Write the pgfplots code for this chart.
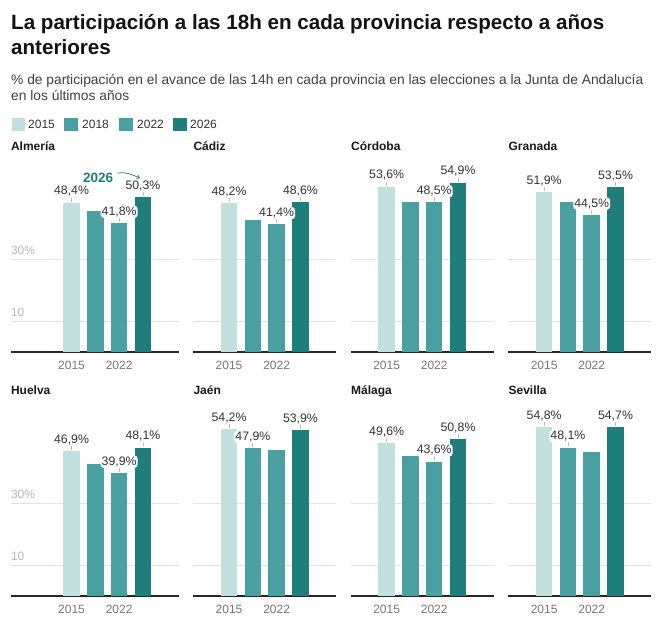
\documentclass[border=0pt]{standalone}
\usepackage{fontspec}
\setmainfont{Liberation Sans}
\usepackage{pgfplots}
\pgfplotsset{compat=1.18}
\usetikzlibrary{arrows.meta}
\definecolor{c15}{HTML}{C3E0E0}
\definecolor{c18}{HTML}{4A9FA0}
\definecolor{c22}{HTML}{4A9FA0}
\definecolor{c26}{HTML}{1F7E7C}
\definecolor{gridc}{HTML}{E3E3E3}
\definecolor{labc}{HTML}{333333}
\definecolor{tickc}{HTML}{BDBDBD}
\definecolor{xlabc}{HTML}{777777}
\definecolor{ylabc}{HTML}{B8B8B8}
\pgfkeys{/pgf/number format/.cd, use comma, fixed, fixed zerofill, precision=1, assume math mode=true}
\newcommand{\fs}[1]{\fontsize{#1bp}{#1bp}\selectfont}
\pgfplotsset{
  panel/.style={
    scale only axis, height=185bp, ymin=0, ymax=60, clip=false,
    axis line style={draw=none}, major tick length=0pt,
    ymajorgrids, major grid style={draw=gridc, line width=0.9bp},
    ytick={10,30},
    extra y ticks={0}, extra y tick labels={},
    extra y tick style={major grid style={draw=black!85, line width=1.1bp}},
    xtick={0,2}, xticklabels={2015,2022},
    xticklabel style={anchor=base, yshift=-17.5bp, font=\fs{12}, text=xlabc},
    yticklabel style={anchor=base west, inner sep=0pt, yshift=5bp, font=\fs{12}, text=ylabc},
    title style={at={(0,1)}, anchor=base west, inner sep=0pt, yshift=11bp, font=\bfseries\fs{12}, text=black!90},
    ybar, bar width=16.5bp, bar shift=0pt,
  },
  first/.style={panel, xmin=-2.55, xmax=4.5, width=167.8bp, yticklabels={10,30\%}},
  other/.style={panel, xmin=-1.5, xmax=4.5, width=142.8bp, yticklabels={}},
  tck/.style={draw=none, fill=none,
    nodes near coords={\textcolor{tickc}{\rule{0.8bp}{4bp}}},
    nodes near coords style={anchor=south, yshift=1bp, inner sep=0pt}},
  lab/.style={draw=none, fill=none,
    nodes near coords={\pgfmathprintnumber{\pgfplotspointmeta}\%},
    nodes near coords style={anchor=south, yshift=5bp, fill=white, inner sep=1bp,
      rounded corners=3bp, text=labc, font=\fs{12.3}}},
}
% #1 style, #2 X, #3 Y, #4 title, #5-#8 values 2015..2026, #9 labelled bars
\newcommand{\panel}[9]{%
  \begin{axis}[#1, at={(#2bp,#3bp)}, anchor=south west, title={#4}]
    \addplot[fill=c15, draw=none] coordinates {(0,#5)};
    \addplot[fill=c18, draw=none] coordinates {(1,#6)};
    \addplot[fill=c22, draw=none] coordinates {(2,#7)};
    \addplot[fill=c26, draw=none] coordinates {(3,#8)};
    \addplot[tck] coordinates {#9};
    \addplot[lab] coordinates {#9};
  \end{axis}}
\begin{document}
\begin{tikzpicture}
\fill[white] (0,0) rectangle (665bp,629bp);
\path[use as bounding box] (0,0) rectangle (665bp,629bp);
% titles
\node[anchor=base west, inner sep=0pt, font=\bfseries\fs{20.6}, text=black!93] at (11bp,599.7bp) {La participación a las 18h en cada provincia respecto a años};
\node[anchor=base west, inner sep=0pt, font=\bfseries\fs{20.6}, text=black!93] at (11bp,574bp) {anteriores};
\node[anchor=base west, inner sep=0pt, font=\fs{13.8}, text=black!75] at (11bp,544.7bp) {\% de participación en el avance de las 14h en cada provincia en las elecciones a la Junta de Andalucía};
\node[anchor=base west, inner sep=0pt, font=\fs{13.8}, text=black!75] at (11bp,528.3bp) {en los últimos años};
% legend
\fill[c15] (11.5bp,497.5bp) rectangle ++(13.5bp,13.5bp);
\node[anchor=base west, inner sep=0pt, font=\fs{12}, text=labc] at (28bp,500bp) {2015};
\fill[c18] (64bp,497.5bp) rectangle ++(13.5bp,13.5bp);
\node[anchor=base west, inner sep=0pt, font=\fs{12}, text=labc] at (82bp,500bp) {2018};
\fill[c22] (119bp,497.5bp) rectangle ++(13.5bp,13.5bp);
\node[anchor=base west, inner sep=0pt, font=\fs{12}, text=labc] at (137bp,500bp) {2022};
\fill[c26] (173.3bp,497.5bp) rectangle ++(13.5bp,13.5bp);
\node[anchor=base west, inner sep=0pt, font=\fs{12}, text=labc] at (190bp,500bp) {2026};
% panels
\panel{first}{10.85}{277}{Almería}{48.4}{45.6}{41.8}{50.3}{(0,48.4) (2,41.8) (3,50.3)}
\panel{other}{193.35}{277}{Cádiz}{48.2}{42.8}{41.4}{48.6}{(0,48.2) (2,41.4) (3,48.6)}
\panel{other}{350.9}{277}{Córdoba}{53.6}{48.8}{48.5}{54.9}{(0,53.6) (2,48.5) (3,54.9)}
\panel{other}{508.4}{277}{Granada}{51.9}{48.6}{44.5}{53.5}{(0,51.9) (2,44.5) (3,53.5)}
\panel{first}{10.85}{33}{Huelva}{46.9}{42.7}{39.9}{48.1}{(0,46.9) (2,39.9) (3,48.1)}
\panel{other}{193.35}{33}{Jaén}{54.2}{47.9}{47.2}{53.9}{(0,54.2) (1,47.9) (3,53.9)}
\panel{other}{350.9}{33}{Málaga}{49.6}{45.4}{43.6}{50.8}{(0,49.6) (2,43.6) (3,50.8)}
\panel{other}{508.4}{33}{Sevilla}{54.8}{48.1}{46.8}{54.7}{(0,54.8) (1,48.1) (3,54.7)}
% annotation
\node[anchor=base west, inner sep=0pt, font=\bfseries\fs{13.5}, text=c26] at (83bp,446.7bp) {2026};
\draw[c26, line width=0.7bp, -{Straight Barb[length=2.5bp,width=4bp]}] (117.5bp,455.7bp) to[out=12, in=158] (140bp,451bp);
\end{tikzpicture}
\end{document}
